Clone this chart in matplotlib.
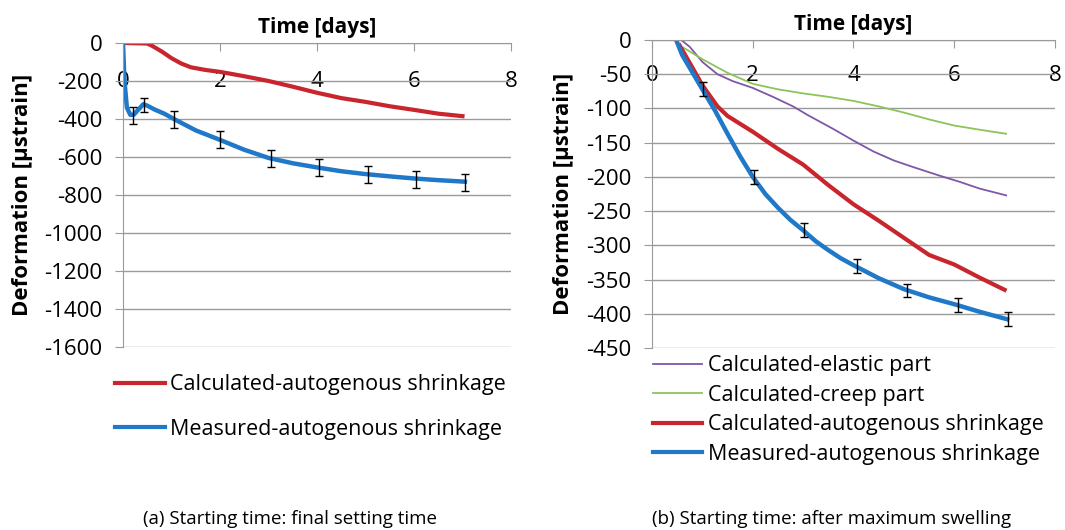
import matplotlib.pyplot as plt
from matplotlib.lines import Line2D

plt.rcParams['font.family'] = ['Open Sans', 'DejaVu Sans']
plt.rcParams['axes.unicode_minus'] = False

# (a) starting time: final setting time
a_calc_t = [0.05, 0.5, 0.6, 0.8, 1.0, 1.2, 1.4, 1.7, 2.0, 2.5, 3.0, 3.5, 4.0, 4.5, 5.0, 5.5, 6.0, 6.5, 7.0]
a_calc = [0, -3, -15, -45, -80, -108, -128, -142, -152, -175, -200, -230, -262, -290, -310, -333, -352, -372, -385]
a_meas_t = [0.0, 0.03, 0.08, 0.15, 0.22, 0.3, 0.42, 0.5, 0.65, 0.85, 1.05, 1.5, 2.0, 2.5, 3.0, 3.5, 4.0, 4.5,
            5.0, 5.5, 6.0, 6.5, 7.05]
a_meas = [0, -200, -340, -378, -378, -355, -322, -330, -350, -372, -400, -460, -510, -562, -605, -633, -655,
          -675, -690, -702, -713, -722, -730]
a_err_t = [0.2, 0.43, 1.05, 2.0, 3.05, 4.05, 5.05, 6.05, 7.05]
a_err_y = [-380, -325, -403, -509, -607, -657, -692, -718, -733]
a_err = [45, 38, 45, 45, 45, 45, 45, 45, 45]

# (b) starting time: after maximum swelling
b_elas_t = [0.58, 0.75, 1.0, 1.3, 1.6, 2.0, 2.4, 2.8, 3.1, 3.6, 4.0, 4.4, 4.8, 5.2, 5.7, 6.1, 6.5, 7.03]
b_elas = [0, -10, -32, -50, -60, -70, -83, -97, -110, -130, -147, -163, -176, -186, -198, -207, -217, -227]
b_creep_t = [0.62, 1.0, 1.5, 2.0, 2.5, 3.0, 3.5, 4.0, 4.5, 5.0, 5.5, 6.0, 6.5, 7.03]
b_creep = [-11, -28, -48, -64, -72, -78, -83, -89, -97, -106, -116, -125, -131, -137]
b_calc_t = [0.55, 0.8, 1.0, 1.3, 1.5, 2.0, 2.5, 3.0, 3.5, 4.0, 4.5, 5.0, 5.5, 6.0, 6.5, 7.0]
b_calc = [-8, -40, -66, -97, -111, -134, -159, -182, -212, -240, -264, -289, -314, -328, -347, -365]
b_meas_t = [0.48, 0.6, 0.8, 1.0, 1.25, 1.5, 1.75, 2.0, 2.25, 2.5, 2.75, 3.0, 3.25, 3.5, 3.75, 4.0, 4.5, 5.0,
            5.5, 6.0, 6.5, 7.05]
b_meas = [0, -22, -47, -72, -103, -137, -170, -200, -225, -245, -263, -278, -294, -307, -319, -329, -348,
          -364, -376, -386, -397, -408]
b_err_t = [1.02, 2.02, 3.02, 4.07, 5.07, 6.07, 7.07]
b_err_y = [-72, -200, -278, -330, -366, -387, -408]
b_err = [10, 10, 10, 10, 10, 10, 10]

RED = '#c8262c'
BLUE = '#1f78c8'
PURPLE = '#7e57a8'
GREEN = '#8cc45a'
GRID = '#9a9a9a'

fig = plt.figure(figsize=(10.65, 5.3), dpi=100)
ax1 = fig.add_axes([0.1155, 0.3453, 0.3643, 0.5736])
ax2 = fig.add_axes([0.6122, 0.3434, 0.3784, 0.5811])


def style_axis(ax, ymin, ystep, ylab_x, xpad):
    ax.set_xlim(0, 8)
    ax.set_ylim(ymin, 0)
    ax.set_xticks([0, 2, 4, 6, 8])
    ax.set_yticks(range(ymin, 1, ystep))
    ax.grid(axis='y', color=GRID, lw=1)
    ax.set_axisbelow(True)
    for s in ['top', 'right']:
        ax.spines[s].set_visible(False)
    ax.spines['bottom'].set_position(('data', 0))
    ax.spines['bottom'].set_color(GRID)
    ax.spines['left'].set_color(GRID)
    ax.tick_params(axis='x', length=6, color=GRID, pad=xpad, labelsize=16)
    ax.tick_params(axis='y', length=6, color=GRID, pad=9, labelsize=16)
    ax.set_title('Time [days]', fontsize=15, fontweight='bold', pad=7)
    ax.set_ylabel('Deformation [µstrain]', fontsize=16, fontweight='bold')
    ax.yaxis.set_label_coords(ylab_x, 0.5)


style_axis(ax1, -1600, 200, -0.232, 14)
ax1.plot(a_calc_t, a_calc, color=RED, lw=3)
ax1.plot(a_meas_t, a_meas, color=BLUE, lw=3.2)
ax1.errorbar(a_err_t, a_err_y, yerr=a_err, fmt='none', ecolor='black', elinewidth=1, capsize=3)

style_axis(ax2, -450, 50, -0.194, 12)
ax2.plot(b_elas_t, b_elas, color=PURPLE, lw=1.3)
ax2.plot(b_creep_t, b_creep, color=GREEN, lw=1.3)
ax2.plot(b_calc_t, b_calc, color=RED, lw=3)
ax2.plot(b_meas_t, b_meas, color=BLUE, lw=3.2)
ax2.errorbar(b_err_t, b_err_y, yerr=b_err, fmt='none', ecolor='black', elinewidth=1, capsize=3)

leg_kw = dict(loc='upper left', frameon=False, fontsize=15.5, handlelength=2.3, handletextpad=0.25,
              borderpad=0, borderaxespad=0, bbox_transform=fig.transFigure)
ax1.legend([Line2D([], [], color=RED, lw=3), Line2D([], [], color=BLUE, lw=3)],
           ['Calculated-autogenous shrinkage', 'Measured-autogenous shrinkage'],
           bbox_to_anchor=(0.108, 0.294), labelspacing=1.1, **leg_kw)
ax2.legend([Line2D([], [], color=PURPLE, lw=1.3), Line2D([], [], color=GREEN, lw=1.3),
            Line2D([], [], color=RED, lw=3), Line2D([], [], color=BLUE, lw=3)],
           ['Calculated-elastic part', 'Calculated-creep part',
            'Calculated-autogenous shrinkage', 'Measured-autogenous shrinkage'],
           bbox_to_anchor=(0.613, 0.330), labelspacing=0.4, **leg_kw)

fig.text(0.272, 0.012, '(a) Starting time: final setting time', ha='center', fontsize=13.5)
fig.text(0.781, 0.012, '(b) Starting time: after maximum swelling', ha='center', fontsize=13.5)

fig.savefig('out.png', dpi=100)
